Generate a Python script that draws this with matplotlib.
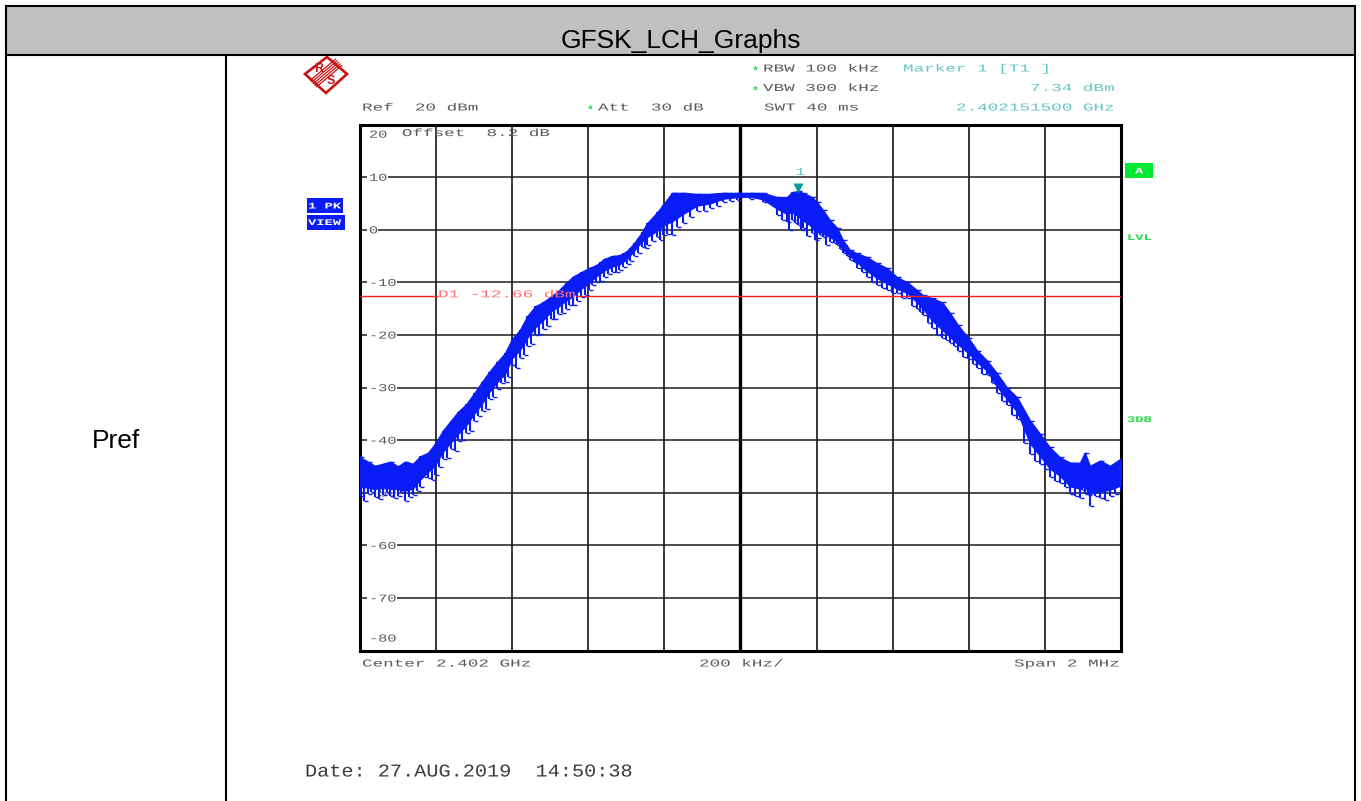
import matplotlib
matplotlib.use("Agg")
import matplotlib.pyplot as plt
import matplotlib.patheffects as pe
from matplotlib.patches import Polygon, Rectangle
from matplotlib.transforms import Affine2D, blended_transform_factory
import numpy as np

# ---------- data ----------
freq_khz = [-1000,-979,-961,-940,-921,-900,-882,-861,-842,-821,-803,-782,-761,-742,-721,-700,-679,-661,-640,-619,
            -600,-580,-561,-540,-519,-498,-480,-459,-440,-419,-399,-380,-359,-338,-319,-299,-280,-259,-246,-219,
            -204,-180,-151,-114,-80,-46,-9,25,59,96,122,135,151,164,188,201,217,235,254,269,
            288,306,332,359,385,411,438,464,480,503,530,551,572,598,622,648,674,700,727,761,
            787,813,840,866,892,905,918,945,971,1000]
trace_top = [-43.3,-44.1,-44.9,-44.5,-44.1,-45.0,-44.1,-44.5,-43.1,-42.4,-40.7,-38.2,-36.3,-34.6,-33.2,-31.1,-28.9,-27.1,-25.2,-23.5,
             -20.7,-19.1,-16.5,-14.6,-13.8,-12.7,-11.7,-10.2,-8.9,-8.1,-7.3,-6.8,-5.6,-5.0,-4.9,-4.1,-2.6,-0.5,1.2,3.3,
             4.7,7.0,7.0,6.8,6.8,7.0,7.0,7.0,7.0,6.2,6.2,7.1,7.34,7.0,6.2,5.2,3.7,1.8,0.3,-2.0,
             -3.9,-4.5,-5.2,-6.4,-7.3,-9.0,-10.0,-11.5,-12.5,-13.0,-13.8,-15.9,-18.2,-20.5,-23.0,-24.9,-27.3,-30.0,-31.9,-36.3,
             -38.8,-41.4,-43.3,-44.3,-44.3,-42.4,-44.9,-43.9,-44.9,-43.5]
trace_body = [-48.9,-49.0,-49.3,-49.0,-49.2,-49.3,-49.6,-49.2,-47.5,-46.0,-44.8,-42.2,-40.4,-38.8,-37.2,-35.0,-33.0,-30.9,-29.0,-27.4,
              -24.4,-22.9,-20.6,-18.6,-17.2,-15.5,-14.7,-13.5,-12.6,-11.2,-10.2,-8.9,-7.8,-7.0,-6.6,-5.6,-4.0,-2.2,-1.4,-0.2,
              0.8,1.6,3.0,4.6,5.0,5.9,6.2,6.3,5.8,4.0,3.0,3.4,2.6,1.8,0.6,-0.4,-0.6,-1.4,-2.2,-3.8,
              -5.0,-6.2,-7.8,-9.2,-10.2,-11.2,-12.0,-13.8,-15.0,-17.2,-19.0,-20.4,-21.8,-23.4,-25.2,-26.8,-29.8,-32.2,-34.6,-40.6,
              -43.0,-45.4,-46.8,-48.8,-49.2,-48.8,-50.2,-49.8,-49.4,-48.6]
trace_tip = [-50.6,-50.2,-50.8,-50.4,-50.6,-50.6,-51.5,-50.4,-48.9,-47.3,-46.6,-43.5,-41.6,-40.1,-38.6,-36.3,-34.4,-32.1,-30.2,-29.0,
             -25.8,-24.3,-22.2,-20.1,-18.8,-16.9,-16.1,-15.0,-14.4,-12.7,-11.5,-10.0,-8.9,-8.1,-7.7,-6.6,-5.0,-3.3,-3.0,-1.4,
             -1.0,-1.0,1.2,3.5,4.1,5.2,5.6,5.8,5.2,2.8,1.4,1.8,0.9,0.3,-0.7,-1.6,-1.4,-2.4,-3.0,-4.5,
             -5.8,-7.3,-9.0,-10.6,-11.5,-12.1,-12.9,-15.0,-16.3,-18.6,-20.5,-21.6,-23.0,-24.5,-26.2,-27.7,-31.0,-33.4,-35.9,-42.6,
             -44.5,-47.1,-48.1,-50.2,-51.0,-50.2,-52.5,-51.1,-50.6,-49.6]
# extra narrow downward spikes seen between the samples above
spike_khz = [-990,-970,-950,-930,-910,-891,-872,-851,-831,-812,-792,-771,-751,-731,-710,-690,-670,-650,-630,-610,
             -590,-570,-550,-530,-508,-489,-470,-450,-430,-409,-390,-370,-348,-328,-309,-290,-270,-252,-232,-212,
             -192,-166,-133,-97,-63,-28,109,128,143,158,176,195,209,226,245,262,279,297,319,345,
             372,398,425,451,472,492,516,540,561,585,610,635,661,687,713,744,774,800,826,853,
             879,898,912,931,958,985]
spike_dbm = [-51.6,-49.8,-51.2,-50.0,-51.0,-49.9,-50.8,-49.6,-47.0,-47.6,-45.2,-43.4,-42.1,-39.9,-38.2,-35.5,-34.0,-31.8,-29.2,-28.0,
             -26.2,-23.8,-21.8,-19.9,-18.3,-16.9,-15.9,-14.4,-13.6,-12.4,-10.6,-9.8,-8.4,-8.0,-7.0,-6.0,-4.4,-3.5,-2.2,-1.9,
             -0.8,0.6,2.4,3.6,4.6,5.4,1.8,0.0,1.2,-0.1,-1.2,-2.0,-1.0,-3.0,-2.6,-3.6,-5.0,-6.2,-8.0,-10.0,
             -11.0,-12.0,-13.0,-14.6,-15.6,-17.8,-20.0,-20.9,-22.2,-24.2,-25.6,-27.4,-29.2,-32.6,-35.2,-40.6,-44.0,-45.4,-47.8,-49.0,
             -50.6,-49.4,-50.4,-50.6,-51.4,-50.2]

display_line_dbm = -12.66
marker_khz = 151.5
marker_dbm = 7.34
y_grid = [10, 0, -10, -20, -30, -40, -50, -60, -70]
y_label_text = ["10", "0", "-10", "-20", "-30", "-40", "-50", "-60", "-70"]
x_grid = [-800, -600, -400, -200, 0, 200, 400, 600, 800]

TITLE = "GFSK_LCH_Graphs"
ROW = "Pref"
GRAY = "#5a5a5a"
TEAL = "#62c6c6"
GREEN = "#22e04a"
BLUE = "#0a1cf5"


class Stretch(pe.AbstractPathEffect):
    """Widen glyphs horizontally, as on the analyzer's bitmap screen font."""
    def __init__(self, sx):
        super().__init__()
        self.sx = sx

    def draw_path(self, renderer, gc, tpath, affine, rgbFace=None):
        renderer.draw_path(gc, tpath, Affine2D().scale(self.sx, 1) + affine, rgbFace)


fig = plt.figure(figsize=(13.61, 8.01), dpi=100, facecolor="white")
W, H = 1361.0, 801.0

bg = fig.add_axes([0, 0, 1, 1])
bg.set_xlim(0, W)
bg.set_ylim(H, 0)
bg.axis("off")

# ---------- table ----------
bg.add_patch(Rectangle((6.5, 6), 1348.5, 48.5, fc="#c0c0c0", ec="none", zorder=1))
for xs, ys in [((6.5, 6.5), (5, 801)), ((1355, 1355), (5, 801)), ((5, 1356.5), (6, 6)),
               ((5, 1356.5), (54.5, 54.5)), ((226, 226), (54.5, 801))]:
    bg.plot(xs, ys, color="black", lw=1.5, solid_capstyle="butt", zorder=2)
bg.text(681, 41, TITLE, ha="center", va="center", fontsize=19, family="Liberation Sans", color="black", zorder=3)
bg.text(116, 441, ROW, ha="center", va="center", fontsize=19, family="Liberation Sans", color="black", zorder=3)


def screen(ax_, x, y, s, color=GRAY, size=7.6, sx=1.67, weight="normal", **kw):
    return ax_.text(x, y, s, color=color, fontsize=size, family="Liberation Mono", weight=weight,
                    ha="left", va="baseline", path_effects=[Stretch(sx)], **kw)


# ---------- screen header / footer ----------
for x, y, s, c in [(362, 110.5, "Ref  20 dBm", GRAY), (598, 110.5, "Att  30 dB", GRAY),
                   (763, 71.5, "RBW 100 kHz", GRAY), (763, 91, "VBW 300 kHz", GRAY),
                   (764, 110.5, "SWT 40 ms", GRAY), (903, 71.5, "Marker 1 [T1 ]", TEAL),
                   (1030, 91, "7.34 dBm", TEAL), (956, 110.5, "2.402151500 GHz", TEAL),
                   (362, 666.5, "Center 2.402 GHz", GRAY), (699, 666.5, "200 kHz/", GRAY),
                   (1014, 666.5, "Span 2 MHz", GRAY)]:
    screen(bg, x, y, s, color=c)
screen(bg, 305, 776.5, "Date: 27.AUG.2019  14:50:38", color="#3c3c3c", size=13, sx=1.12)
for x, y in [(590, 107), (755, 68), (755, 88)]:
    bg.plot([x], [y], marker="*", ms=4, color=GREEN, mec="none")

# ---------- side badges ----------
bg.add_patch(Rectangle((1125, 163), 28, 15, fc="#00e832", ec="none"))
screen(bg, 1135, 173.5, "A", color="white", size=6.2, sx=1.6, weight="bold")
screen(bg, 1127, 240, "LVL", color=GREEN, size=6.2, sx=1.6, weight="bold")
screen(bg, 1127, 422, "3DB", color=GREEN, size=6.2, sx=1.6, weight="bold")
bg.add_patch(Rectangle((307, 198), 36, 15, fc=BLUE, ec="none"))
bg.add_patch(Rectangle((307, 214.5), 38, 15, fc=BLUE, ec="none"))
screen(bg, 308, 208.5, "1 PK", color="white", size=6.2, sx=1.6, weight="bold")
screen(bg, 308, 225, "VIEW", color="white", size=6.2, sx=1.6, weight="bold")

# ---------- R&S logo ----------
RED = "#c81414"
bg.add_patch(Polygon([(305, 74), (327, 57), (347, 74), (326, 93)], closed=True, fc="white", ec=RED, lw=1.9))
for d in (-3.2, -1.6, 0, 1.6, 3.2):
    bg.plot([313 + d, 339 + d], [84 + d, 62 + d], color=RED, lw=0.9, solid_capstyle="butt")
bg.text(319, 68.5, "R", color=RED, fontsize=9, weight="bold", family="Liberation Sans", ha="center", va="center")
bg.text(331, 81, "S", color=RED, fontsize=9, weight="bold", family="Liberation Sans", ha="center", va="center")

# ---------- spectrum axes ----------
ax = fig.add_axes([360 / W, 1 - 650.5 / H, 761 / W, 526 / H])
ax.set_xlim(-1000, 1000)
ax.set_ylim(-80, 20)
ax.patch.set_alpha(0)
ax.set_xticks([])
ax.set_yticks([])
for sp in ax.spines.values():
    sp.set_linewidth(2.2)
    sp.set_color("black")

for x in x_grid:
    ax.axvline(x, color="black", lw=2.4 if x == 0 else 1.1, zorder=1)

blend = blended_transform_factory(ax.transAxes, ax.transData)
for y, lab in zip(y_grid, y_label_text):
    resume = -927 if len(lab) == 2 and lab[0] != "-" else (-953 if len(lab) == 1 else -903)
    ax.hlines(y, -1000, -982, color="#1c1c1c", lw=1.1, zorder=1)
    ax.hlines(y, resume, 1000, color="#1c1c1c", lw=1.1, zorder=1)
    screen(ax, 0.0118, y - 0.7, lab, sx=1.45, zorder=2, transform=blend)
screen(ax, 0.0118, 17.5, "20", sx=1.45, zorder=2, transform=blend)
screen(ax, 0.0118, -78.3, "-80", sx=1.45, zorder=2, transform=blend)
screen(ax, 0.055, 17.8, "Offset  8.2 dB", zorder=2, transform=blend)

# trace
ax.fill_between(freq_khz, trace_top, trace_body, color=BLUE, lw=1.0, zorder=3)
ax.vlines(freq_khz, trace_top, trace_tip, color=BLUE, lw=1.5, zorder=3)
ax.plot(freq_khz, trace_tip, ls="none", marker=1, ms=2.6, mew=1.0, color=BLUE, zorder=3)
ax.plot(freq_khz, trace_top, ls="none", marker=1, ms=3.0, mew=1.0, color=BLUE, zorder=3)
spike_base = np.minimum(np.array(spike_dbm) + 4, np.interp(spike_khz, freq_khz, trace_top))
ax.vlines(spike_khz, spike_base, spike_dbm, color=BLUE, lw=1.5, zorder=3)
ax.plot(spike_khz, spike_dbm, ls="none", marker=1, ms=2.6, mew=1.0, color=BLUE, zorder=3)

# display line
ax.hlines(display_line_dbm, -1000, -796, color="#ff1c1c", lw=1.0, zorder=4)
ax.hlines(display_line_dbm, -432, 1000, color="#ff1c1c", lw=1.0, zorder=4)
screen(ax, 0.1025, -12.86, "D1 -12.66 dBm", color="#ff7070", zorder=5, transform=blend)

# marker
ax.plot([marker_khz], [marker_dbm + 0.6], marker="v", ms=7.5, color="#009c9c", mec="none", zorder=5, clip_on=False)
screen(ax, 0.5716, 10.4, "1", color=TEAL, zorder=5, transform=blend)

fig.savefig("out.png", dpi=100)
